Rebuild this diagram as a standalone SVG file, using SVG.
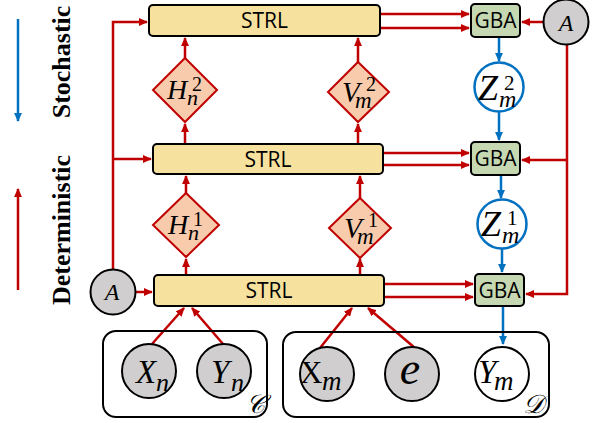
<svg xmlns="http://www.w3.org/2000/svg" width="597" height="423" viewBox="0 0 597 423">
<defs>
<style>
.r{stroke:#C00000;stroke-width:2.5;fill:none}
.b{stroke:#0070C0;stroke-width:2.5;fill:none}
.strl{fill:#F6E29E;stroke:#000;stroke-width:2}
.gba{fill:#C5D8B1;stroke:#000;stroke-width:2}
.dia{fill:#F8CBAD;stroke:#C00000;stroke-width:2}
.obs{fill:#D0CECE;stroke:#000;stroke-width:2}
.wht{fill:#fff;stroke:#000;stroke-width:2}
.lat{fill:#fff;stroke:#0070C0;stroke-width:2.5}
.plate{fill:none;stroke:#000;stroke-width:2}
.lbl{font-family:"Open Sans","Liberation Sans",sans-serif;font-size:21px;text-anchor:middle;fill:#000}
.m{font-family:"Liberation Serif",serif;font-style:italic;fill:#000}
.up{font-family:"Liberation Serif",serif;font-style:normal;fill:#000}
.leg{font-family:"Liberation Serif",serif;font-weight:bold;font-size:26px;text-anchor:middle;fill:#000}
</style>
<marker id="ar" viewBox="0 0 10 10" refX="9" refY="5" markerWidth="9" markerHeight="8" orient="auto" markerUnits="userSpaceOnUse" preserveAspectRatio="none"><path d="M0,0 L10,5 L0,10 z" fill="#C00000"/></marker>
<marker id="ab" viewBox="0 0 10 10" refX="9" refY="5" markerWidth="9" markerHeight="8" orient="auto" markerUnits="userSpaceOnUse" preserveAspectRatio="none"><path d="M0,0 L10,5 L0,10 z" fill="#0070C0"/></marker>
</defs>
<rect width="597" height="423" fill="#fff"/>

<g id="legend">
<path class="b" d="M18,19 V121" marker-end="url(#ab)"/>
<path class="r" d="M18,290 V189" marker-end="url(#ar)"/>
<text class="leg" transform="translate(70,62) rotate(-90)">Stochastic</text>
<text class="leg" transform="translate(70,230) rotate(-90)">Deterministic</text>
</g>

<g id="connectors">
<path class="r" d="M113,270 V22 H147" marker-end="url(#ar)"/>
<path class="r" d="M113,159 H151" marker-end="url(#ar)"/>
<path class="r" d="M135.5,292 H152" marker-end="url(#ar)"/>
<path class="r" d="M185,144 V124" marker-end="url(#ar)"/>
<path class="r" d="M185,58 V38" marker-end="url(#ar)"/>
<path class="r" d="M358,144 V124" marker-end="url(#ar)"/>
<path class="r" d="M358,62 V38" marker-end="url(#ar)"/>
<path class="r" d="M186,275 V259" marker-end="url(#ar)"/>
<path class="r" d="M186,193 V176" marker-end="url(#ar)"/>
<path class="r" d="M360,275 V259" marker-end="url(#ar)"/>
<path class="r" d="M360,198 V176" marker-end="url(#ar)"/>
<path class="r" d="M380,14 H469" marker-end="url(#ar)"/>
<path class="r" d="M380,28 H469" marker-end="url(#ar)"/>
<path class="r" d="M383,153 H469" marker-end="url(#ar)"/>
<path class="r" d="M383,165 H469" marker-end="url(#ar)"/>
<path class="r" d="M384,284 H473" marker-end="url(#ar)"/>
<path class="r" d="M384,297 H473" marker-end="url(#ar)"/>
<path class="r" d="M543.5,22 H522" marker-end="url(#ar)"/>
<path class="r" d="M567,44 V294 H526" marker-end="url(#ar)"/>
<path class="r" d="M567,160 H522" marker-end="url(#ar)"/>
<path class="r" d="M152,344 L184,308" marker-end="url(#ar)"/>
<path class="r" d="M223,344 L192,308" marker-end="url(#ar)"/>
<path class="r" d="M320,348 L352,308" marker-end="url(#ar)"/>
<path class="r" d="M415,348 L368,308" marker-end="url(#ar)"/>
<path class="b" d="M499,37 V61" marker-end="url(#ab)"/>
<path class="b" d="M499,112 V140" marker-end="url(#ab)"/>
<path class="b" d="M501,175 V198" marker-end="url(#ab)"/>
<path class="b" d="M502,249 V272" marker-end="url(#ab)"/>
<path class="b" d="M503,306 V344" marker-end="url(#ab)"/>
</g>

<g id="strl3"><rect class="strl" x="149" y="5" width="231" height="31" rx="4"/><text class="lbl" x="264.5" y="28">STRL</text></g>
<g id="strl2"><rect class="strl" x="153" y="144" width="230" height="30" rx="4"/><text class="lbl" x="268" y="166.5">STRL</text></g>
<g id="strl1"><rect class="strl" x="154" y="275" width="230" height="31" rx="4"/><text class="lbl" x="269" y="298">STRL</text></g>

<g id="gba3"><rect class="gba" x="471" y="4" width="49" height="33" rx="4"/><text class="lbl" x="495.5" y="28">GBA</text></g>
<g id="gba2"><rect class="gba" x="471" y="142" width="49" height="33" rx="4"/><text class="lbl" x="495.5" y="166">GBA</text></g>
<g id="gba1"><rect class="gba" x="475" y="274" width="49" height="32" rx="4"/><text class="lbl" x="499.5" y="297.5">GBA</text></g>

<g id="H2"><path class="dia" d="M185,58 L217,90 L185,122 L153,90 z"/>
<text class="m" font-size="28" x="167" y="99">H</text><text class="m" font-size="22" x="187" y="105">n</text><text class="up" font-size="20" x="192" y="91">2</text></g>
<g id="V2"><path class="dia" d="M358,62 L389,92 L358,122 L328,92 z"/>
<text class="m" font-size="29" x="342" y="102">V</text><text class="m" font-size="23" x="355" y="108">m</text><text class="up" font-size="20" x="366" y="91">2</text></g>
<g id="H1"><path class="dia" d="M186,193 L219,225 L186,257 L153,225 z"/>
<text class="m" font-size="28" x="168" y="234">H</text><text class="m" font-size="22" x="188" y="240">n</text><text class="up" font-size="20" x="193" y="226">1</text></g>
<g id="V1"><path class="dia" d="M360,198 L391,228 L360,258 L329,228 z"/>
<text class="m" font-size="29" x="344" y="238">V</text><text class="m" font-size="23" x="357" y="244">m</text><text class="up" font-size="20" x="368" y="227">1</text></g>

<g id="Z2"><circle class="lat" cx="499" cy="87" r="24.5"/>
<text class="m" font-size="36" x="478" y="100">Z</text><text class="m" font-size="24" x="499" y="107">m</text><text class="up" font-size="21" x="504" y="90">2</text></g>
<g id="Z1"><circle class="lat" cx="502" cy="224" r="24.5"/>
<text class="m" font-size="36" x="481" y="236">Z</text><text class="m" font-size="24" x="502" y="243">m</text><text class="up" font-size="21" x="507" y="225">1</text></g>

<g id="A_top"><circle class="obs" cx="566" cy="22" r="22.5"/><text class="m" font-size="24" x="566" y="30.5" text-anchor="middle">A</text></g>
<g id="A_bottom"><circle class="obs" cx="113" cy="292" r="22.5"/><text class="m" font-size="24" x="112" y="300" text-anchor="middle">A</text></g>

<g id="plateC"><rect class="plate" x="103" y="331" width="164" height="86" rx="13"/>
<text class="m" font-size="26" x="246" y="413">𝒞</text></g>
<g id="plateD"><rect class="plate" x="283" y="332" width="266" height="85" rx="13"/>
<text class="m" font-size="26" x="523" y="413">𝒟</text></g>

<g id="Xn"><circle class="obs" cx="149" cy="371" r="27"/>
<text class="m" font-size="33" x="136" y="383">X</text><text class="m" font-size="26" x="156" y="391">n</text></g>
<g id="Yn"><circle class="obs" cx="224" cy="371" r="27"/>
<text class="m" font-size="33" x="211" y="383">Y</text><text class="m" font-size="26" x="231" y="391">n</text></g>
<g id="Xm"><circle class="obs" cx="327" cy="374" r="27"/>
<text class="up" font-size="31" x="300" y="383">X</text><text class="m" font-size="27" x="322" y="390">m</text></g>
<g id="e"><circle class="obs" cx="412" cy="374" r="27"/>
<text class="m" font-size="46" x="410" y="384" text-anchor="middle">e</text></g>
<g id="Ym"><circle class="wht" cx="502" cy="374" r="27"/>
<text class="m" font-size="33" x="478" y="383">Y</text><text class="m" font-size="27" x="494" y="390">m</text></g>
</svg>
